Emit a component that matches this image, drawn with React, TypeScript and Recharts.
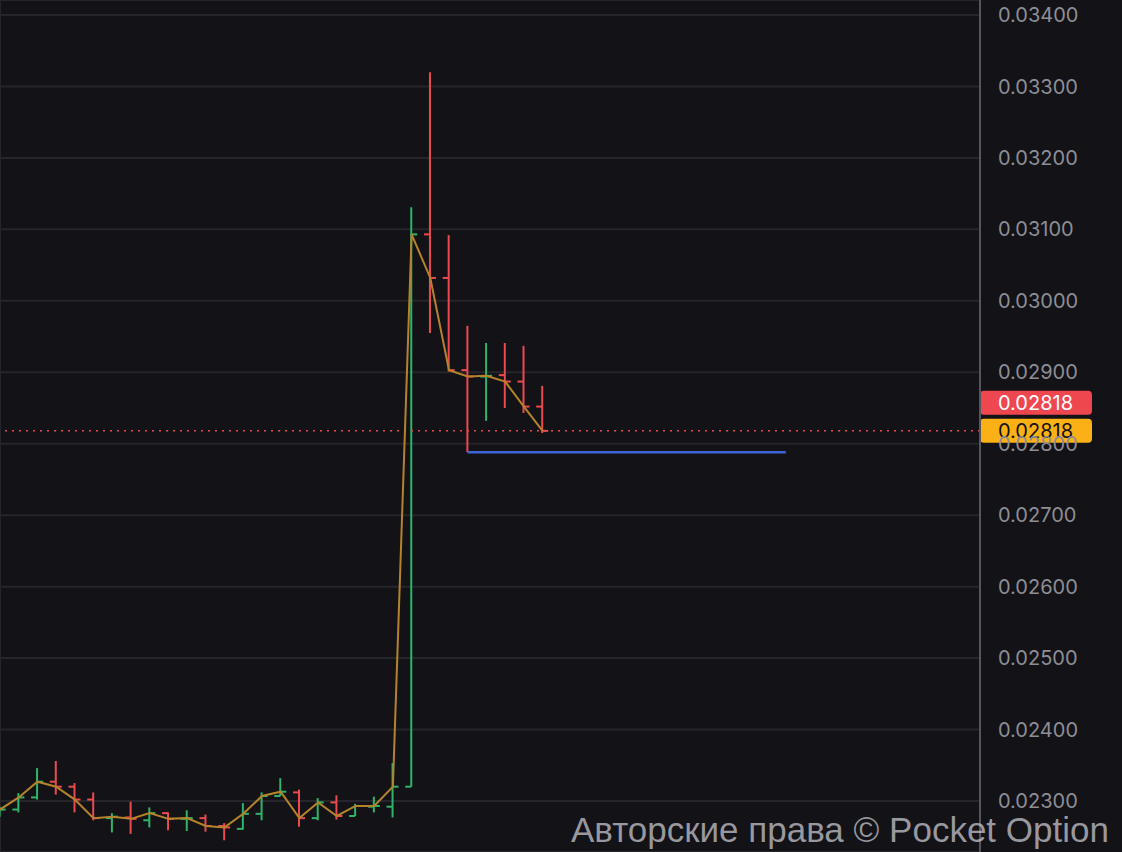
import {
  ComposedChart, Bar, Line, XAxis, YAxis, CartesianGrid, ReferenceLine,
} from "recharts";

// OHLC values, one entry per candle (oldest first)
const OPEN = [
  0.02284, 0.02288, 0.02305, 0.02327, 0.0232, 0.02302, 0.02276, 0.02277, 0.02273, 0.02283,
  0.02275, 0.02276, 0.02265, 0.02261, 0.02282, 0.02307, 0.02312, 0.02276, 0.02298, 0.02279,
  0.02292, 0.02292, 0.0232, 0.03093, 0.03032, 0.02903, 0.02894, 0.02896, 0.02887, 0.02852,
];
const HIGH = [
  0.02292, 0.02311, 0.02346, 0.02356, 0.02325, 0.02312, 0.02283, 0.02299, 0.02291, 0.02284,
  0.02287, 0.02281, 0.02269, 0.02297, 0.02312, 0.02332, 0.02316, 0.02304, 0.02308, 0.02296,
  0.02306, 0.02353, 0.03131, 0.0332, 0.03092, 0.02965, 0.02941, 0.02941, 0.02937, 0.02881,
];
const LOW = [
  0.02278, 0.02284, 0.02302, 0.02309, 0.02284, 0.02273, 0.02256, 0.02254, 0.02263, 0.02259,
  0.02258, 0.02257, 0.02245, 0.0226, 0.02273, 0.02307, 0.02264, 0.02273, 0.02274, 0.02279,
  0.02284, 0.02277, 0.0232, 0.02955, 0.02901, 0.02788, 0.02832, 0.0285, 0.02843, 0.02815,
];
const CLOSE = [
  0.02288, 0.02305, 0.02327, 0.0232, 0.02302, 0.02276, 0.02278, 0.02275, 0.02283, 0.02275,
  0.02276, 0.02265, 0.02263, 0.02282, 0.02307, 0.02313, 0.02276, 0.02298, 0.02279, 0.02293,
  0.02293, 0.0232, 0.03093, 0.03032, 0.02903, 0.02894, 0.02895, 0.02887, 0.02852, 0.02818,
];

const PRICE_TICKS = [
  0.023, 0.024, 0.025, 0.026, 0.027, 0.028, 0.029, 0.03, 0.031, 0.032, 0.033, 0.034,
];
const TIME_TICKS = [12, 24, 36, 48];
const CURRENT_PRICE = 0.02818;
const LEVEL_PRICE = 0.02788;
const LEVEL_FROM = 25;
const LEVEL_TO = 42;

const data = OPEN.map((open, i) => ({
  i,
  open,
  high: HIGH[i],
  low: LOW[i],
  close: CLOSE[i],
}));

const BG = "#121217";
const GREEN = "#2fb46a";
const RED = "#eb4a4f";
const FONT = "Inter, 'Noto Sans', sans-serif";

function OhlcShape(props: any) {
  const { x, y, width, height, payload } = props;
  if (payload == null) return null;
  const { open, high, low, close } = payload;
  const cx = x + width / 2;
  const span = high - low || 1;
  const yOpen = y + ((high - open) / span) * height;
  const yClose = y + ((high - close) / span) * height;
  const color = close >= open ? GREEN : RED;
  return (
    <g stroke={color} strokeWidth={2}>
      <line x1={cx} x2={cx} y1={y} y2={y + height} />
      <line x1={cx - 6} x2={cx} y1={yOpen} y2={yOpen} />
      <line x1={cx} x2={cx + 6} y1={yClose} y2={yClose} />
    </g>
  );
}

function PriceTags(props: any) {
  const { viewBox } = props;
  if (!viewBox) return null;
  const left = viewBox.x + viewBox.width;
  const y = viewBox.y;
  const label = CURRENT_PRICE.toFixed(5);
  return (
    <g fontFamily={FONT} fontSize={20}>
      <rect x={left} y={y - 40} width={112} height={24} rx={4} fill="#ef4750" />
      <text x={left + 18} y={y - 28} dy="0.36em" fill="#fff">{label}</text>
      <rect x={left} y={y - 12} width={112} height={24} rx={4} fill="#fbb015" />
      <text x={left + 18} y={y} dy="0.36em" fill="#111">{label}</text>
    </g>
  );
}

export default function App() {
  return (
    <div style={{ position: "fixed", left: 0, top: 0, width: 1122, height: 852, background: BG, overflow: "hidden" }}>
      <ComposedChart
        width={1122}
        height={852}
        data={data}
        margin={{ top: 0, right: 0, bottom: 0, left: 0 }}
      >
        <CartesianGrid stroke="#25252b" strokeWidth={2} />
        <XAxis
          dataKey="i"
          type="number"
          domain={[0, 52.38]}
          ticks={TIME_TICKS}
          tick={false}
          axisLine={false}
          tickLine={false}
          height={0}
          allowDataOverflow
        />
        <YAxis
          orientation="right"
          width={142}
          domain={[0.022286, 0.03421]}
          ticks={PRICE_TICKS}
          tickFormatter={(v: number) => v.toFixed(5)}
          tick={{ fill: "#8e8e94", fontSize: 20, fontFamily: FONT, textAnchor: "start" }}
          tickLine={false}
          tickSize={0}
          tickMargin={18}
          axisLine={{ stroke: "#55555c", strokeWidth: 2 }}
          allowDataOverflow
        />
        <ReferenceLine
          y={CURRENT_PRICE}
          stroke={RED}
          strokeDasharray="2 5"
          strokeWidth={1.5}
          label={<PriceTags />}
        />
        <ReferenceLine
          segment={[{ x: LEVEL_FROM, y: LEVEL_PRICE }, { x: LEVEL_TO, y: LEVEL_PRICE }]}
          stroke="#3f63d8"
          strokeWidth={2.5}
        />
        <Bar
          dataKey={(d: any) => [d.low, d.high]}
          barSize={12}
          shape={(p: any) => <OhlcShape {...p} />}
          isAnimationActive={false}
        />
        <Line
          dataKey="close"
          type="linear"
          stroke="#b5842a"
          strokeWidth={2}
          dot={false}
          activeDot={false}
          isAnimationActive={false}
        />
      </ComposedChart>
      <div
        style={{
          position: "absolute",
          left: 571,
          top: 810,
          lineHeight: "40px",
          fontFamily: "'Liberation Sans', Arial, sans-serif",
          fontSize: 35,
          color: "rgba(190,190,196,0.78)",
          whiteSpace: "nowrap",
        }}
      >
        Авторские права © Pocket Option
      </div>
    </div>
  );
}
